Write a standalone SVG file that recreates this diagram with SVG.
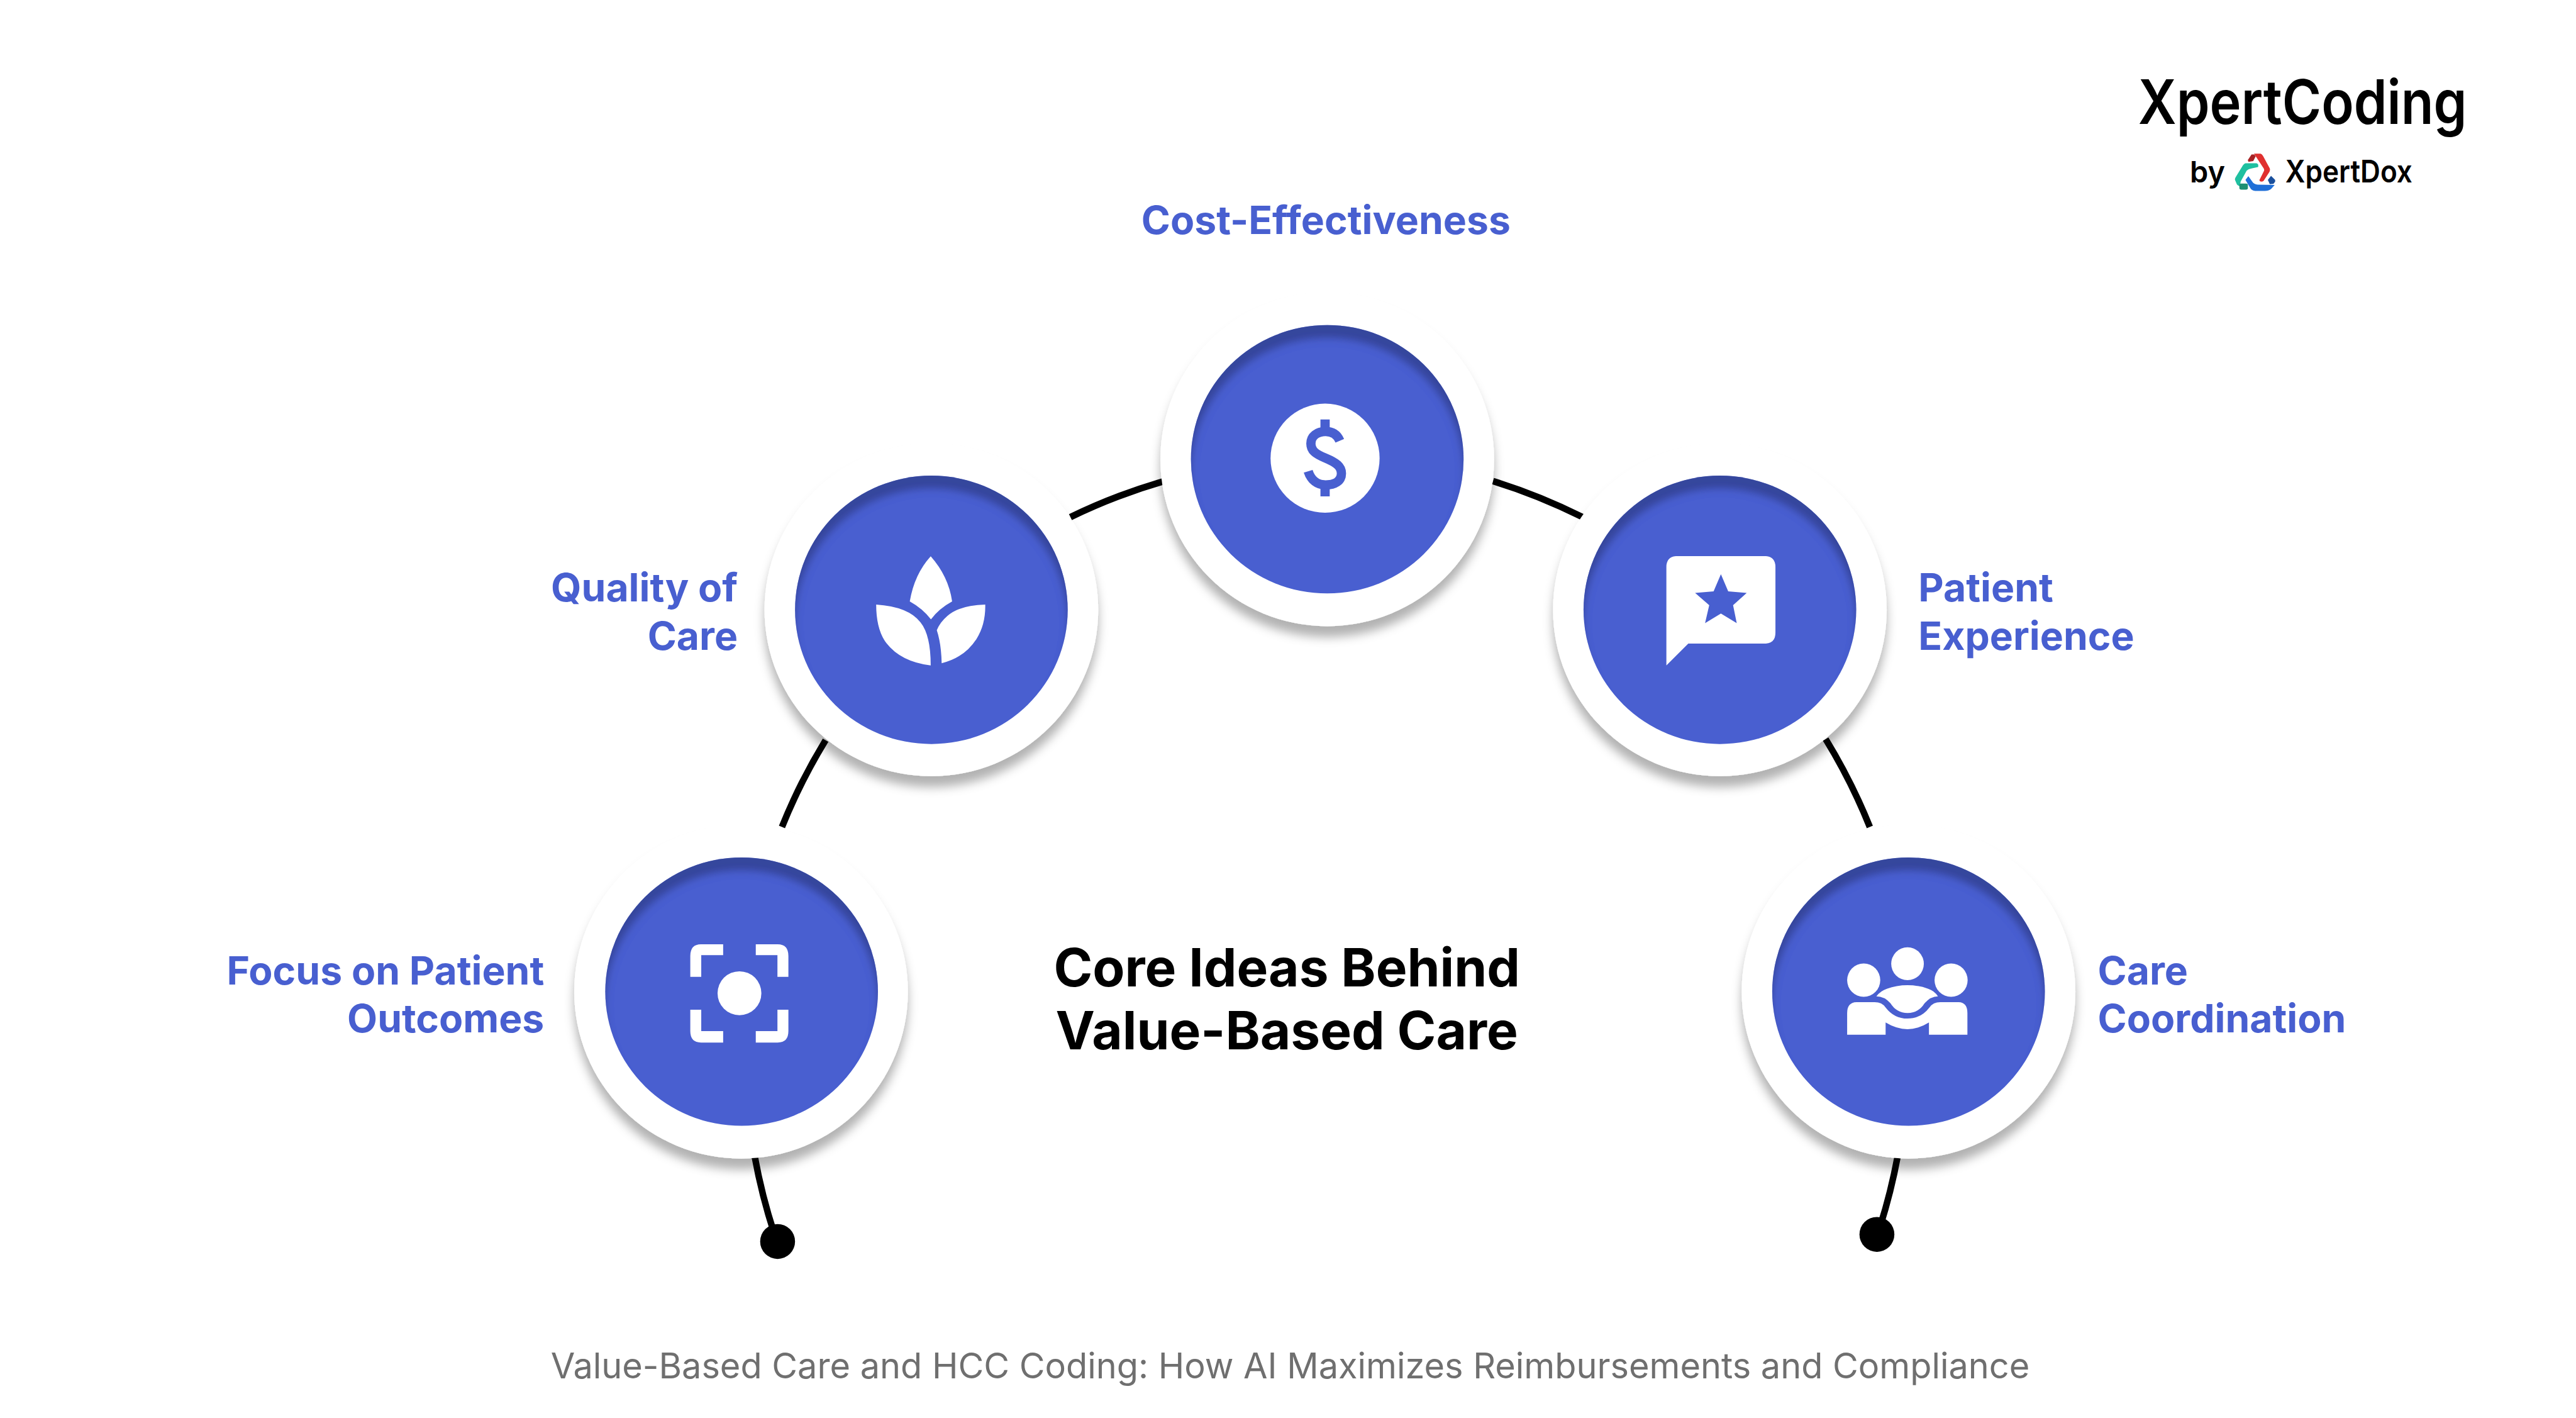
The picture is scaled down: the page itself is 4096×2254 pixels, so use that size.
<svg xmlns="http://www.w3.org/2000/svg" width="4096" height="2254" viewBox="0 0 4096 2254">
<style>
.ring{fill:#fff;filter:url(#drop)}
.disc{fill:#485fd0;filter:url(#inset)}
.ic{fill:#fff}
.icb{fill:#485fd0}
.lbl{font-family:Inter,"Liberation Sans",sans-serif;font-weight:700;font-size:72px;fill:#485fd0}
.end{text-anchor:end}
.ttl{font-family:Inter,"Liberation Sans",sans-serif;font-weight:700;font-size:96.500px;fill:#000;text-anchor:middle}
.cap{font-family:Inter,"Liberation Sans",sans-serif;font-weight:400;font-size:64.400px;fill:#6f6f6f}
.logo{font-family:Inter,"Liberation Sans",sans-serif;font-weight:600;fill:#000}
.arc{fill:none;stroke:#000;stroke-width:12}
</style>
<defs>
<filter id="drop" x="-15%" y="-15%" width="130%" height="135%"><feDropShadow dx="0" dy="20" stdDeviation="9" flood-color="#000" flood-opacity=".3"/></filter>
<filter id="inset" x="-5%" y="-5%" width="110%" height="110%">
<feOffset in="SourceAlpha" dy="24" result="o"/><feGaussianBlur in="o" stdDeviation="7" result="b"/>
<feComposite in="SourceAlpha" in2="b" operator="out" result="e"/><feFlood flood-color="#2f3c86" flood-opacity=".75"/><feComposite in2="e" operator="in" result="s"/>
<feMerge><feMergeNode in="SourceGraphic"/><feMergeNode in="s"/></feMerge></filter>
</defs>
<rect width="4096" height="2254" fill="#fff"/>
<g transform="scale(.86706)">
<g id="connectors" class="arc">
<path class="arc" d="M1963 948A1077 1077 0 0 1 2135 882"/>
<path class="arc" d="M2738 882A1077 1077 0 0 1 2902 948"/>
<path class="arc" d="M1514 1357A1077 1077 0 0 0 1434 1516"/>
<path class="arc" d="M3348 1355A1077 1077 0 0 1 3429 1516"/>
<path class="arc" d="M1384 2120A1077 1077 0 0 0 1420 2262"/>
<path class="arc" d="M3480 2120A1077 1077 0 0 1 3448 2248"/>
<circle cx="1426" cy="2276" r="32" fill="#000" stroke="none"/>
<circle cx="3442" cy="2263" r="32" fill="#000" stroke="none"/>
</g>
<g id="node-focus">
<ellipse class="ring" cx="1359" cy="1818" rx="306" ry="306"/>
<ellipse class="disc" cx="1360" cy="1818" rx="250" ry="246"/>
<g class="ic" transform="translate(1040 1551) scale(.44643 .5102)">
<path d="M641 353H550Q506 353 506 395V470H551V392H641Z"/><path d="M775 353H865Q909 353 909 395V470H864V392H775Z"/><path d="M506 588H551V665H641V706H550Q506 706 506 665Z"/><path d="M909 588H864V665H775V706H865Q909 706 909 665Z"/><ellipse cx="708" cy="529" rx="90" ry="79"/>
</g>
<text class="lbl end" x="998" y="1805">Focus on Patient</text><text class="lbl end" x="998" y="1893">Outcomes</text>
</g>
<g id="node-quality">
<ellipse class="ring" cx="1708" cy="1118" rx="306" ry="305"/>
<ellipse class="disc" cx="1708" cy="1118" rx="250" ry="246"/>
<g class="ic" transform="translate(1380 850) scale(.44643 .38270)">
<path d="M732 444Q805 540 820 660Q765 695 733 746Q700 695 646 660Q665 530 732 444Z"/><path d="M508 675Q640 685 690 760Q732 820 732 967Q610 950 550 860Q508 795 508 675Z"/><path d="M956 675Q850 678 800 730Q770 760 757 798Q775 860 777 956Q870 930 920 840Q958 770 956 675Z"/>
</g>
<text class="lbl end" x="1353" y="1103">Quality of</text><text class="lbl end" x="1353" y="1191">Care</text>
</g>
<g id="node-cost">
<ellipse class="ring" cx="2434" cy="842" rx="306" ry="306"/>
<ellipse class="disc" cx="2434" cy="842" rx="250" ry="246"/>
<ellipse class="ic" cx="2430" cy="840" rx="100" ry="100"/>
<path d="M2457 808C2452 796 2443 791 2431 791C2415 791 2404 800 2404 813C2404 826 2412 832 2431 840C2450 848 2460 855 2460 868C2460 882 2448 889 2431 889C2416 889 2404 880 2399 864" fill="none" stroke="#485fd0" stroke-width="17"/>
<rect class="icb" x="2421.500" y="769" width="17" height="16"/><rect class="icb" x="2421.500" y="895" width="17" height="15"/>
<text class="lbl" x="2093" y="429">Cost-Effectiveness</text>
</g>
<g id="node-experience">
<ellipse class="ring" cx="3154" cy="1118" rx="306" ry="305"/>
<ellipse class="disc" cx="3154" cy="1118" rx="250" ry="246"/>
<g transform="translate(2830 850) scale(.44643 .38270)">
<path class="ic" d="M545 443H915Q954 447 954 495V810Q954 858 915 862H596L506 967V495Q506 447 545 443Z"/>
<polygon class="icb" points="730,530 760,612 836,619 780,678 795,764 730,718 665,764 682,678 624,619 700,612"/>
</g>
<text class="lbl" x="3518" y="1103">Patient</text><text class="lbl" x="3518" y="1191">Experience</text>
</g>
<g id="node-coordination">
<ellipse class="ring" cx="3500" cy="1818" rx="306" ry="306"/>
<ellipse class="disc" cx="3500" cy="1818" rx="250" ry="246"/>
<g class="ic" transform="translate(3170 1551) scale(.44643 .5102)">
<ellipse cx="735" cy="423" rx="67" ry="59"/><ellipse cx="555" cy="482" rx="68" ry="60"/><ellipse cx="914" cy="482" rx="68" ry="60"/>
<path d="M607 540Q625 520 650 513Q690 500 735 500Q780 500 820 513Q845 520 860 540Q830 540 805 565Q780 600 735 600Q690 600 665 565Q640 540 607 540Z"/>
<path d="M487 678V600Q487 562 525 561H600Q630 561 645 580Q680 620 735 620Q790 620 825 580Q840 561 870 561H945Q981 562 981 600V678H823V634Q780 658 735 658Q690 658 645 634V678Z"/>
</g>
<text class="lbl" x="3847" y="1805">Care</text><text class="lbl" x="3847" y="1893">Coordination</text>
</g>
<g id="title"><text class="ttl" x="2360" y="1808">Core Ideas Behind</text><text class="ttl" x="2360" y="1924">Value-Based Care</text></g>
<text id="caption" class="cap" x="1010" y="2527">Value-Based Care and HCC Coding: How AI Maximizes Reimbursements and Compliance</text>
<g id="logo">
<text class="logo" x="3921" y="227" font-size="112" textLength="603" lengthAdjust="spacingAndGlyphs">XpertCoding</text>
<text class="logo" x="4016" y="334" font-size="54">by</text>
<text class="logo" x="4191" y="334" font-size="57" textLength="233" lengthAdjust="spacingAndGlyphs">XpertDox</text>
<g transform="translate(3850 100) scale(.44643 .33784)">
<path fill="#e0302f" d="M635 538H662Q668 540 672 550L700 618Q702 628 698 638L675 685Q670 692 660 688L657 682L676 632Q678 625 675 618Z"/>
<path fill="#a82224" d="M625 542H636L642 552L632 578L612 582L610 572Z"/>
<path fill="#1fc0a0" d="M600 590H645Q655 592 652 610L625 618Q612 620 605 630L580 690L578 715Q572 715 565 705L557 680Q556 672 560 665L590 600Q595 592 600 590Z"/>
<rect fill="#1d8f73" x="575" y="700" width="35" height="33" rx="8"/>
<path fill="#1f6fd8" d="M600 680L612 660L628 690Q635 705 650 706L720 708L705 730Q695 740 680 740H640Q625 738 620 725Z"/>
<path fill="#1a4f9c" d="M692 680L705 658L722 680V690L715 702L700 703Z"/>
</g>
</g>
</g>
</svg>
